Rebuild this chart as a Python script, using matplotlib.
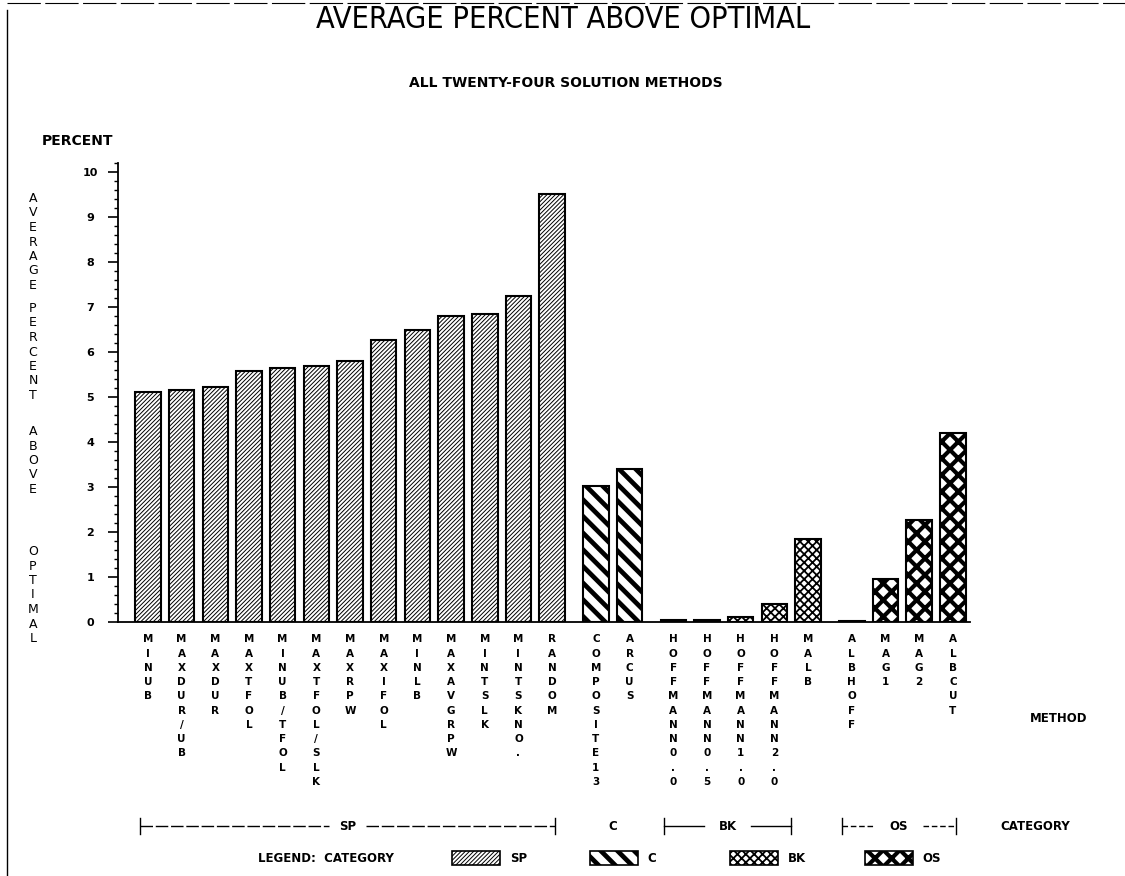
import matplotlib
matplotlib.use("Agg")
import matplotlib.pyplot as plt
from matplotlib.patches import Patch
from matplotlib.lines import Line2D
from matplotlib.ticker import MultipleLocator
import matplotlib.transforms as mtransforms

# datos
metodos = ['MINUB', 'MAXDUR/UB', 'MAXDUR', 'MAXTFOL', 'MINUB/TFOL', 'MAXTFOL/SLK',
           'MAXRPW', 'MAXIFOL', 'MINLB', 'MAXAVGRPW', 'MINTSLK', 'MINTSKNO.', 'RANDOM',
           'COMPOSITE13', 'ARCUS',
           'HOFFMANN0.0', 'HOFFMANN0.5', 'HOFFMANN1.0', 'HOFFMANN2.0', 'MALB',
           'ALBHOFF', 'MAG1', 'MAG2', 'ALBCUT']
valores = [5.12, 5.15, 5.22, 5.57, 5.65, 5.69, 5.79, 6.27, 6.48, 6.79, 6.85, 7.25, 9.52,
           3.02, 3.39,
           0.05, 0.05, 0.12, 0.39, 1.84,
           0.03, 0.96, 2.27, 4.19]
categorias = ['SP'] * 13 + ['C'] * 2 + ['BK'] * 5 + ['OS'] * 4
orden_categorias = ['SP', 'C', 'BK', 'OS']
palabras_eje_y = ['AVERAGE', 'PERCENT', 'ABOVE', 'OPTIMAL']

# estilo de cada categoria: (hatch, grosor de linea del hatch)
estilos = {'SP': ('////////', 0.7), 'C': ('\\\\', 3.4), 'BK': ('xxxx', 1.3), 'OS': ('xx', 3.0)}

W, H = 1125, 876
FUENTE = 'DejaVu Sans'


def fx(px):
    return px / W


def fy(py):
    return 1 - py / H


def grosor_hatch(artista, lw):
    if hasattr(artista, 'set_hatch_linewidth'):
        artista.set_hatch_linewidth(lw)
    else:
        dibujar = artista.draw

        def draw(renderer):
            with plt.rc_context({'hatch.linewidth': lw}):
                dibujar(renderer)
        artista.draw = draw


# posiciones con un pequeño hueco entre categorias
hueco = 0.3
posiciones = []
p = 0.0
anterior = None
for c in categorias:
    if anterior is not None and c != anterior:
        p += hueco
    posiciones.append(p)
    p += 1
    anterior = c

fig = plt.figure(figsize=(W / 100, H / 100), dpi=100)
ax = fig.add_axes([fx(118), fy(622), (970 - 118) / W, (622 - 163) / H])

for x, v, c in zip(posiciones, valores, categorias):
    hatch, lw = estilos[c]
    barra = ax.bar(x, v, width=0.76, facecolor='white', edgecolor='black',
                   linewidth=1.5, hatch=hatch)[0]
    grosor_hatch(barra, lw)

ax.set_xlim(posiciones[0] - 0.89, posiciones[-1] + 0.51)
ax.set_ylim(0, 10.2)
for lado in ['top', 'right']:
    ax.spines[lado].set_visible(False)
ax.spines['left'].set_linewidth(1.3)
ax.spines['bottom'].set_linewidth(1.3)

ax.set_yticks(range(0, 11))
ax.yaxis.set_minor_locator(MultipleLocator(0.2))
ax.tick_params(axis='y', which='major', length=7, width=1.2, pad=13)
ax.tick_params(axis='y', which='minor', length=3, width=1.0)
ax.set_yticklabels([str(i) for i in range(0, 11)], fontsize=8, fontweight='bold',
                   family=FUENTE, ha='center')

ax.set_xticks(posiciones)
ax.set_xticklabels(['\n'.join(m) for m in metodos], fontsize=7.5, fontweight='bold',
                   family=FUENTE, linespacing=1.53, va='top', ha='center')
ax.tick_params(axis='x', length=0, pad=9)

# titulos
fig.text(fx(563), fy(5), 'AVERAGE PERCENT ABOVE OPTIMAL', ha='center', va='top',
         fontsize=22, family=['Liberation Sans Narrow', 'DejaVu Sans'], fontstretch='condensed')
fig.text(fx(566), fy(83), 'ALL TWENTY-FOUR SOLUTION METHODS', ha='center', va='center',
         fontsize=10, fontweight='bold', family=FUENTE)
fig.text(fx(42), fy(141), 'PERCENT', ha='left', va='center', fontsize=10,
         fontweight='bold', family=FUENTE)

# etiqueta vertical, una palabra debajo de otra
y_palabra = [192, 302, 425, 545]
for palabra, y0 in zip(palabras_eje_y, y_palabra):
    fig.text(fx(33), fy(y0), '\n'.join(palabra), ha='center', va='top', fontsize=9,
             family=FUENTE, linespacing=1.15, multialignment='center')

fig.text(fx(1030), fy(718), 'METHOD', ha='left', va='center', fontsize=8.5,
         fontweight='bold', family=FUENTE)
fig.text(fx(1000), fy(826), 'CATEGORY', ha='left', va='center', fontsize=8.5,
         fontweight='bold', family=FUENTE)

# llaves de categoria bajo las etiquetas
trans = mtransforms.blended_transform_factory(ax.transData, fig.transFigure)
estilos_llave = {'SP': (0, (9, 2)), 'BK': '-', 'OS': (0, (4, 2))}
extremos_llave = {'SP': (-0.25, 0.1), 'C': (0, 0), 'BK': (-0.27, -0.5), 'OS': (-0.3, 0.1)}
y_llave = fy(826)
for cat in orden_categorias:
    xs = [x for x, c in zip(posiciones, categorias) if c == cat]
    izq = xs[0] + extremos_llave[cat][0]
    der = xs[-1] + extremos_llave[cat][1]
    centro = (izq + der) / 2
    fig.text(centro, y_llave, cat, transform=trans, ha='center', va='center',
             fontsize=8.5, fontweight='bold', family=FUENTE)
    if cat not in estilos_llave:
        continue
    media = 0.55 if cat == 'SP' else 0.7
    estilo = estilos_llave[cat]
    fig.add_artist(Line2D([izq, centro - media], [y_llave, y_llave], transform=trans,
                          color='black', lw=1.0, linestyle=estilo))
    fig.add_artist(Line2D([centro + media, der], [y_llave, y_llave], transform=trans,
                          color='black', lw=1.0, linestyle=estilo))
    for xe in (izq, der):
        fig.add_artist(Line2D([xe, xe], [y_llave - 0.009, y_llave + 0.009],
                              transform=trans, color='black', lw=1.0))

# leyenda: una entrada por categoria, a intervalos fijos
fig.text(fx(258), fy(858), 'LEGEND:  CATEGORY', ha='left', va='center', fontsize=8.5,
         fontweight='bold', family=FUENTE)
x_leyenda = [452, 590, 730, 865]
for c, xl in zip(orden_categorias, x_leyenda):
    manija = Patch(facecolor='white', edgecolor='black', linewidth=1.2, hatch=estilos[c][0])
    leyenda = fig.legend([manija], [c], loc='center left',
                         bbox_to_anchor=(fx(xl), fy(858)), frameon=False,
                         handlelength=4.1, handleheight=1.5, handletextpad=0.8,
                         borderpad=0, borderaxespad=0,
                         prop={'family': FUENTE, 'weight': 'bold', 'size': 8.5})
    for parche in leyenda.get_patches():
        grosor_hatch(parche, estilos[c][1])

# marco de la pagina escaneada
fig.add_artist(Line2D([fx(7), fx(7)], [fy(10), 0], transform=fig.transFigure,
                      color='black', lw=1.0))
fig.add_artist(Line2D([fx(7), 1], [fy(3), fy(3)], transform=fig.transFigure,
                      color='black', lw=0.8, linestyle=(0, (30, 4))))

fig.savefig('out.png', dpi=100, facecolor='white')
